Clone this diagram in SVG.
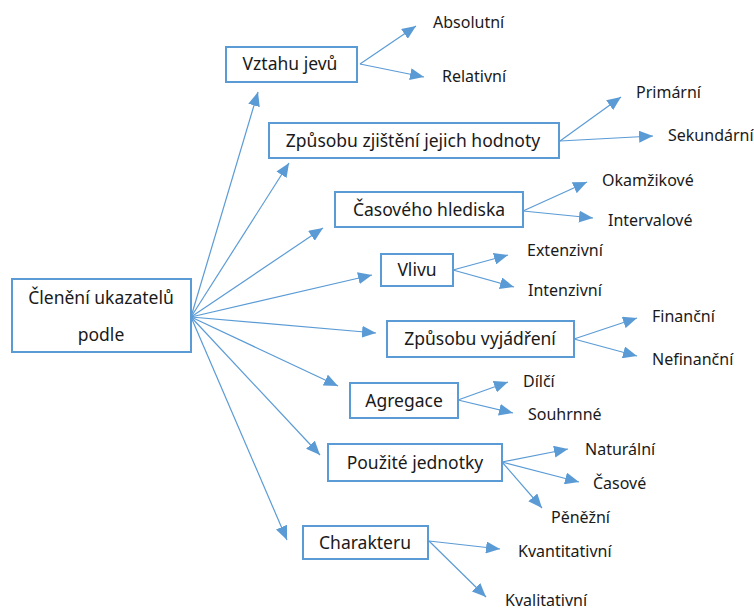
<svg xmlns="http://www.w3.org/2000/svg" width="754" height="608" viewBox="0 0 754 608">
<style>
.box{fill:#fff;stroke:#5B9BD5;stroke-width:2}
.nt{font-family:"Noto Sans","Open Sans",sans-serif;font-size:17.5px;fill:#1a1a1a;text-anchor:middle}
.lt{font-family:"Noto Sans","Open Sans",sans-serif;font-size:16px;fill:#1a1a1a}
.c line{stroke:#5B9BD5;stroke-width:1.2;marker-end:url(#ah)}
</style>
<defs>
<marker id="ah" markerUnits="userSpaceOnUse" markerWidth="14" markerHeight="12" viewBox="0 0 14 12" refX="14" refY="6" orient="auto">
<path d="M0,0 L14,6 L0,12 Z" fill="#5B9BD5"/>
</marker>
</defs>
<rect width="754" height="608" fill="#fff"/>
<g class="c" id="connectors">
<line x1="191" y1="317" x2="258" y2="92"/>
<line x1="191" y1="317" x2="289" y2="163"/>
<line x1="191" y1="317" x2="323" y2="228"/>
<line x1="191" y1="317" x2="372" y2="275"/>
<line x1="191" y1="317" x2="376" y2="333"/>
<line x1="191" y1="317" x2="338" y2="386"/>
<line x1="191" y1="317" x2="320" y2="455"/>
<line x1="191" y1="317" x2="287" y2="540"/>
<line x1="360" y1="64" x2="416" y2="26"/>
<line x1="360" y1="64" x2="424" y2="77"/>
<line x1="560" y1="141" x2="621" y2="97"/>
<line x1="560" y1="141" x2="653" y2="136"/>
<line x1="523" y1="211" x2="587" y2="182"/>
<line x1="523" y1="211" x2="593" y2="218"/>
<line x1="453" y1="270" x2="508" y2="255"/>
<line x1="453" y1="270" x2="514" y2="287"/>
<line x1="574" y1="339" x2="637" y2="318"/>
<line x1="574" y1="339" x2="637" y2="356"/>
<line x1="458" y1="400" x2="508" y2="382"/>
<line x1="458" y1="400" x2="513" y2="413"/>
<line x1="502" y1="462" x2="568" y2="449"/>
<line x1="502" y1="462" x2="579" y2="482"/>
<line x1="502" y1="462" x2="542" y2="508"/>
<line x1="429" y1="541" x2="500" y2="549"/>
<line x1="429" y1="541" x2="486" y2="597"/>
</g>
<g id="root"><rect class="box" x="12" y="279" width="179" height="73"/><text class="nt" x="101" y="304">Členění ukazatelů</text><text class="nt" x="101" y="341">podle</text></g>
<g id="n1"><rect class="box" x="226" y="47" width="131" height="35"/><text class="nt" x="290" y="70">Vztahu jevů</text></g>
<g id="n2"><rect class="box" x="269" y="123" width="290" height="35"/><text class="nt" x="413" y="147">Způsobu zjištění jejich hodnoty</text></g>
<g id="n3"><rect class="box" x="335" y="192" width="188" height="35"/><text class="nt" x="429" y="216">Časového hlediska</text></g>
<g id="n4"><rect class="box" x="381" y="254" width="72" height="32"/><text class="nt" x="417" y="276">Vlivu</text></g>
<g id="n5"><rect class="box" x="387" y="321" width="187" height="36"/><text class="nt" x="480" y="345">Způsobu vyjádření</text></g>
<g id="n6"><rect class="box" x="350" y="383" width="108" height="35"/><text class="nt" x="404" y="407">Agregace</text></g>
<g id="n7"><rect class="box" x="328" y="444" width="174" height="37"/><text class="nt" x="415" y="469">Použité jednotky</text></g>
<g id="n8"><rect class="box" x="303" y="526" width="125" height="33"/><text class="nt" x="365" y="549">Charakteru</text></g>
<g id="leaves">
<text class="lt" x="433" y="28">Absolutní</text>
<text class="lt" x="442" y="82">Relativní</text>
<text class="lt" x="636" y="98">Primární</text>
<text class="lt" x="668" y="141">Sekundární</text>
<text class="lt" x="602" y="186">Okamžikové</text>
<text class="lt" x="608" y="226">Intervalové</text>
<text class="lt" x="527" y="256">Extenzivní</text>
<text class="lt" x="528" y="296">Intenzivní</text>
<text class="lt" x="652" y="322">Finanční</text>
<text class="lt" x="652" y="365">Nefinanční</text>
<text class="lt" x="523" y="387">Dílčí</text>
<text class="lt" x="528" y="420">Souhrnné</text>
<text class="lt" x="585" y="455">Naturální</text>
<text class="lt" x="593" y="489">Časové</text>
<text class="lt" x="551" y="523">Pěněžní</text>
<text class="lt" x="518" y="557">Kvantitativní</text>
<text class="lt" x="505" y="606">Kvalitativní</text>
</g>
</svg>
